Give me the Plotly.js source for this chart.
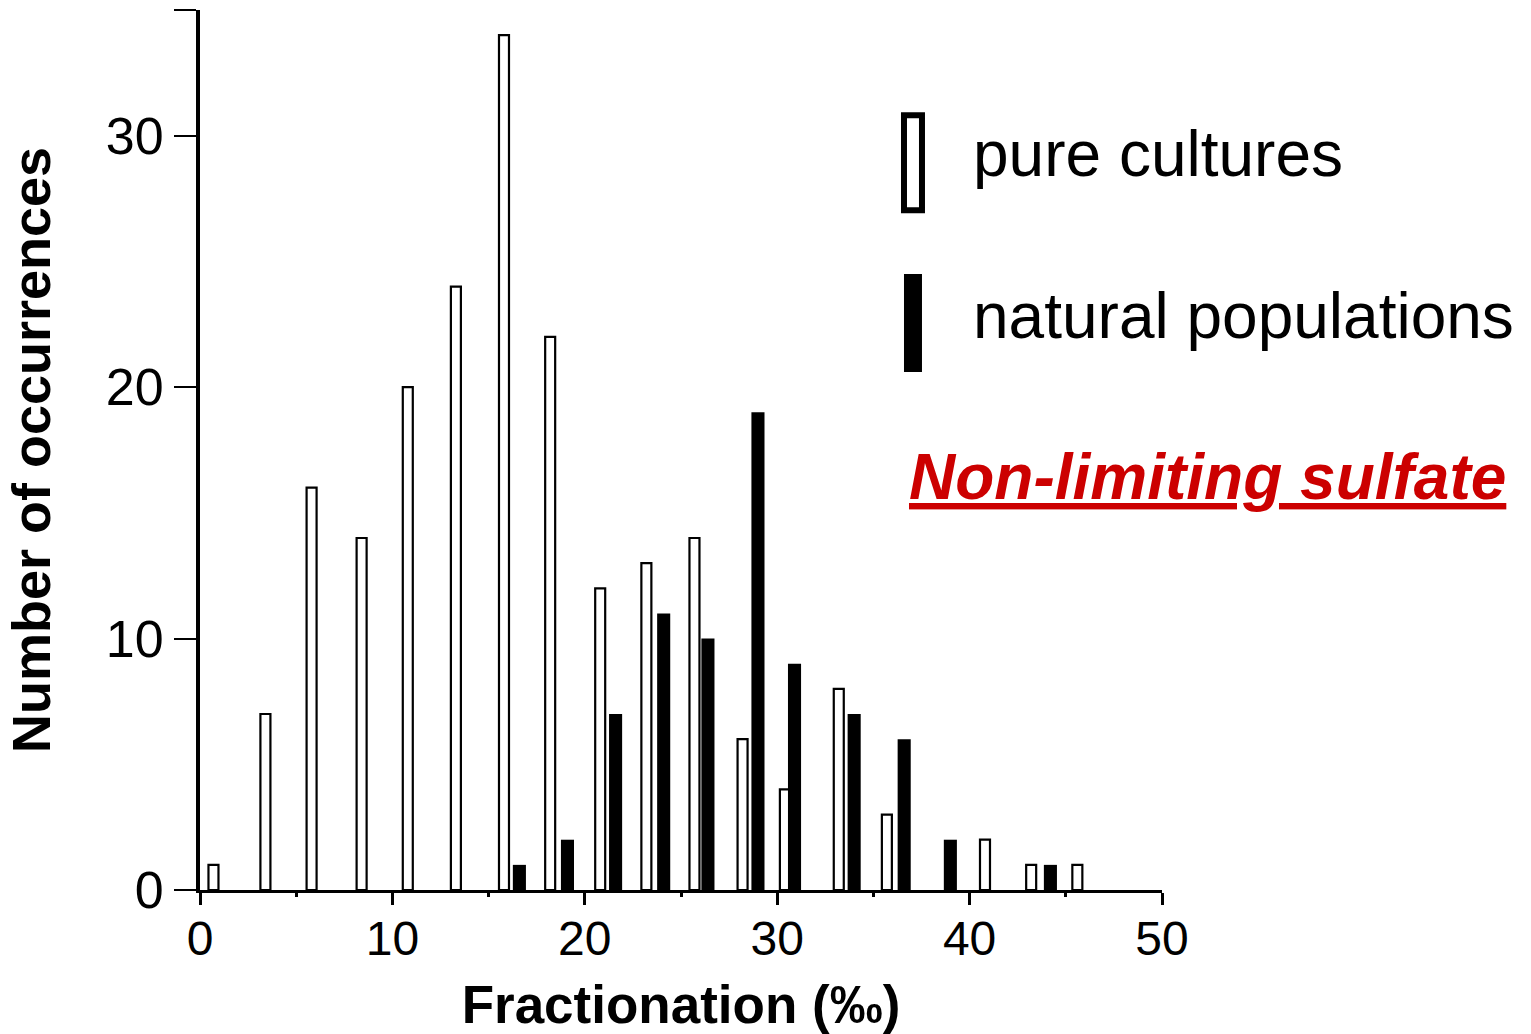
<!DOCTYPE html>
<html>
<head>
<meta charset="utf-8">
<script src="https://cdn.plot.ly/plotly-3.0.1.min.js"></script>
<style>
  html, body { margin: 0; padding: 0; background: #ffffff; }
  #chart { width: 1531px; height: 1034px; }
</style>
</head>
<body>
<div id="chart"></div>
<script>
// Fractionation bin positions (‰) and counts
const pureX = [0.7, 3.4, 5.8, 8.4, 10.8, 13.3, 15.8, 18.2, 20.8, 23.2, 25.7, 28.2, 30.4, 33.2, 35.7, 40.8, 43.2, 45.6];
const pureY = [1, 7, 16, 14, 20, 24, 34, 22, 12, 13, 14, 6, 4, 8, 3, 2, 1, 1];

const naturalX = [16.6, 19.1, 21.6, 24.1, 26.4, 29.0, 30.9, 34.0, 36.6, 39.0, 44.2];
const naturalY = [1, 2, 7, 11, 10, 19, 9, 7, 6, 2, 1];

const xTickVals = [0, 10, 20, 30, 40, 50];
const yTickVals = [0, 10, 20, 30, 35];
const yTickText = ['0', '10', '20', '30', ''];

const seriesNames = ['pure cultures', 'natural populations'];
const xTitle = 'Fractionation (‰)';
const yTitle = 'Number of occurrences';
const noteText = 'Non-limiting sulfate';

const FONT = 'Liberation Sans, Arial, Helvetica, sans-serif';

const traces = [
  {
    type: 'bar',
    name: seriesNames[0],
    x: pureX,
    y: pureY,
    width: 0.52,
    marker: { color: '#ffffff', line: { color: '#000000', width: 2.2 } },
    showlegend: false,
    hoverinfo: 'x+y'
  },
  {
    type: 'bar',
    name: seriesNames[1],
    x: naturalX,
    y: naturalY,
    width: 0.68,
    marker: { color: '#000000', line: { color: '#000000', width: 0 } },
    showlegend: false,
    hoverinfo: 'x+y'
  }
];

const layout = {
  width: 1531,
  height: 1034,
  margin: { l: 200, r: 369, t: 10, b: 144 },
  paper_bgcolor: '#ffffff',
  plot_bgcolor: '#ffffff',
  barmode: 'overlay',
  showlegend: false,
  font: { family: FONT, color: '#000000' },
  xaxis: {
    range: [0, 50],
    tickvals: xTickVals,
    ticks: 'outside',
    ticklen: 12,
    tickwidth: 3,
    tickcolor: '#000000',
    ticklabelstandoff: -8,
    minor: { dtick: 5, tick0: 0, ticks: 'outside', ticklen: 4, tickwidth: 3, tickcolor: '#000000' },
    showline: true,
    linewidth: 3,
    linecolor: '#000000',
    showgrid: false,
    zeroline: false,
    tickfont: { family: FONT, size: 48, color: '#000000' },
    title: { text: xTitle, font: { family: FONT, size: 53, color: '#000000', weight: 'bold' }, standoff: 26 },
    automargin: false
  },
  yaxis: {
    range: [0, 35],
    tickvals: yTickVals,
    ticktext: yTickText,
    ticks: 'outside',
    ticklen: 22,
    tickwidth: 2,
    tickcolor: '#000000',
    showline: true,
    linewidth: 4,
    linecolor: '#000000',
    showgrid: false,
    zeroline: false,
    tickfont: { family: FONT, size: 52, color: '#000000' },
    title: { text: yTitle, font: { family: FONT, size: 54, color: '#000000', weight: 'bold' }, standoff: 39 },
    automargin: false
  },
  shapes: [
    {
      type: 'rect', xref: 'paper', yref: 'paper',
      x0: 0.7318, x1: 0.7505, y0: 0.7725, y1: 0.8805,
      fillcolor: '#ffffff', line: { color: '#000000', width: 6 }
    },
    {
      type: 'rect', xref: 'paper', yref: 'paper',
      x0: 0.7318, x1: 0.7505, y0: 0.5886, y1: 0.700,
      fillcolor: '#000000', line: { color: '#000000', width: 0 }
    }
  ],
  annotations: [
    {
      xref: 'paper', yref: 'paper', x: 0.801, y: 0.836,
      xanchor: 'left', yanchor: 'middle', showarrow: false,
      text: seriesNames[0],
      font: { family: FONT, size: 64, color: '#000000' }
    },
    {
      xref: 'paper', yref: 'paper', x: 0.801, y: 0.652,
      xanchor: 'left', yanchor: 'middle', showarrow: false,
      text: seriesNames[1],
      font: { family: FONT, size: 64, color: '#000000' }
    },
    {
      xref: 'paper', yref: 'paper', x: 0.735, y: 0.469,
      xanchor: 'left', yanchor: 'middle', showarrow: false,
      text: '<u><b><i>' + noteText + '</i></b></u>',
      font: { family: FONT, size: 64, color: '#cc0000' }
    }
  ]
};

Plotly.newPlot('chart', traces, layout, { staticPlot: true, displayModeBar: false });
</script>
</body>
</html>
